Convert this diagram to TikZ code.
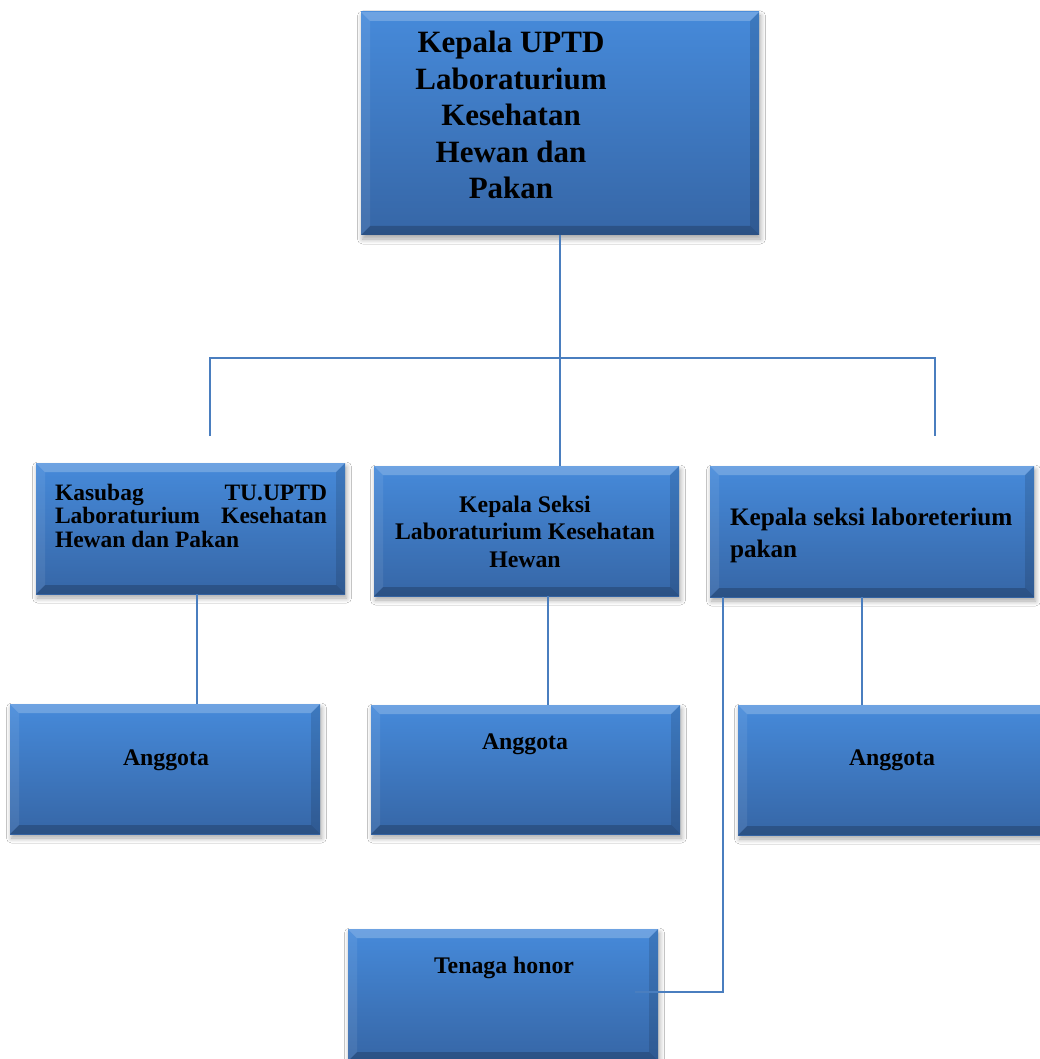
\documentclass[tikz,border=0pt]{standalone}
\usepackage{fontspec}
\setmainfont{Liberation Serif}
\usetikzlibrary{calc,shadows.blur}
\definecolor{boxtop}{RGB}{70,138,218}
\definecolor{boxbot}{RGB}{54,102,166}
\definecolor{conn}{RGB}{74,126,191}
\tikzset{
  orgbox/.style={anchor=north west, inner sep=0pt, outer sep=0pt,
    top color=boxtop, bottom color=boxbot,
    blur shadow={shadow xshift=1.5pt, shadow yshift=-4pt, shadow blur steps=8, shadow blur radius=5pt, shadow opacity=35},
    path picture={
      \coordinate (pNW) at (path picture bounding box.north west);
      \coordinate (pNE) at (path picture bounding box.north east);
      \coordinate (pSW) at (path picture bounding box.south west);
      \coordinate (pSE) at (path picture bounding box.south east);
      \fill[white,opacity=0.22] (pNW) -- (pNE) -- ($(pNE)+(-9pt,-9pt)$) -- ($(pNW)+(9pt,-9pt)$) -- cycle;
      \fill[black,opacity=0.2] (pSW) -- (pSE) -- ($(pSE)+(-9pt,9pt)$) -- ($(pSW)+(9pt,9pt)$) -- cycle;
      \fill[white,opacity=0.08] (pNW) -- ($(pNW)+(9pt,-9pt)$) -- ($(pSW)+(9pt,9pt)$) -- (pSW) -- cycle;
      \fill[black,opacity=0.12] (pNE) -- ($(pNE)+(-9pt,-9pt)$) -- ($(pSE)+(-9pt,9pt)$) -- (pSE) -- cycle;
    }},
  orgtext/.style={inner sep=0pt, outer sep=0pt, font=\bfseries, text=black},
  link/.style={draw=conn, line width=1.6pt}
}
\begin{document}
\begin{tikzpicture}[x=1pt,y=-1pt]
\useasboundingbox[fill=white] (0,0) rectangle (1040,1059);

% boxes
\node[orgbox, minimum width=398pt, minimum height=223pt] (top) at (361,12) {};
\node[orgbox, minimum width=309pt, minimum height=131pt] (kas) at (36,463) {};
\node[orgbox, minimum width=305pt, minimum height=130pt] (mid) at (374,466) {};
\node[orgbox, minimum width=324pt, minimum height=131pt] (rgt) at (710,466) {};
\node[orgbox, minimum width=310pt, minimum height=130pt] (a1) at (10,704) {};
\node[orgbox, minimum width=309pt, minimum height=129pt] (a2) at (371,705) {};
\node[orgbox, minimum width=312pt, minimum height=130pt] (a3) at (738,705) {};
\node[orgbox, minimum width=310pt, minimum height=132pt] (ten) at (348,929) {};

% texts
\node[orgtext, anchor=base] (ttop) at (511,53)
  {\parbox[t]{240pt}{\centering\fontsize{31}{36.5}\selectfont Kepala UPTD\\Laboraturium\\Kesehatan\\Hewan dan\\Pakan}};
\node[orgtext, anchor=base west] (tkas) at (55,500)
  {\parbox[t]{272pt}{\fontsize{23.5}{23.8}\selectfont
   \hbox to\linewidth{Kasubag\hfill TU.UPTD}\par
   \hbox to\linewidth{Laboraturium\hfill Kesehatan}\par
   Hewan dan Pakan}};
\node[orgtext, anchor=base] (tmid) at (525,512)
  {\parbox[t]{290pt}{\centering\fontsize{23.8}{27.5}\selectfont Kepala Seksi\\Laboraturium Kesehatan\\Hewan}};
\node[orgtext, anchor=base west] (trgt) at (730,525)
  {\parbox[t]{300pt}{\raggedright\fontsize{25.2}{32}\selectfont Kepala seksi laboreterium\\pakan}};
\node[orgtext, anchor=base, font=\bfseries\fontsize{23.8}{27}\selectfont] (ta1) at (166,765) {Anggota};
\node[orgtext, anchor=base, font=\bfseries\fontsize{23.8}{27}\selectfont] (ta2) at (525,749) {Anggota};
\node[orgtext, anchor=base, font=\bfseries\fontsize{23.8}{27}\selectfont] (ta3) at (892,765) {Anggota};
\node[orgtext, anchor=base, font=\bfseries\fontsize{23.8}{27}\selectfont] (tten) at (504,973) {Tenaga honor};

% connector coordinates
\coordinate (hl) at (210,358);
\coordinate (hr) at (935,358);
\coordinate (dl) at (210,436);
\coordinate (dr) at (935,436);
\coordinate (kx) at (197,0);
\coordinate (mx) at (548,0);
\coordinate (rx) at (862,0);
\coordinate (tx) at (723,0);
\coordinate (tend) at (635,992);

% connectors
\draw[link] (top.south) -- (top.south |- mid.north);
\draw[link] (dl) -- (hl) -- (hr) -- (dr);
\draw[link] (kx |- kas.south) -- (kx |- a1.north);
\draw[link] (mx |- mid.south) -- (mx |- a2.north);
\draw[link] (rx |- rgt.south) -- (rx |- a3.north);
\draw[link] (tx |- rgt.south) -- (tx |- tend) -- (tend);
\end{tikzpicture}
\end{document}
